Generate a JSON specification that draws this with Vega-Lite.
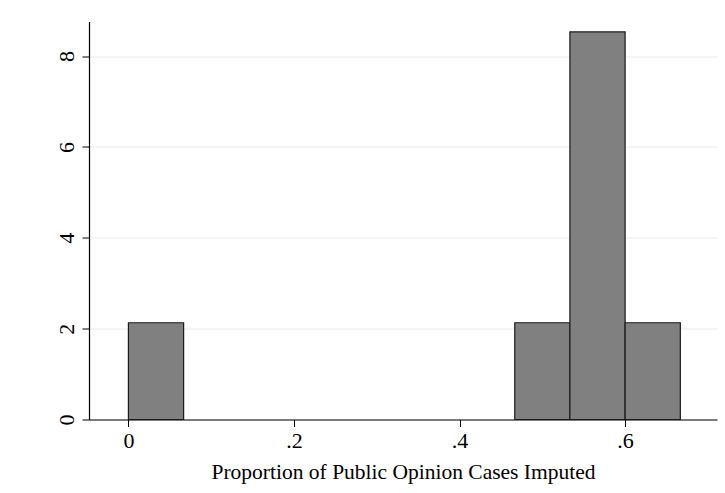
{
  "$schema": "https://vega.github.io/schema/vega-lite/v6.json",
  "width": 628,
  "height": 398,
  "autosize": {"type": "none"},
  "padding": {"left": 89, "top": 21.5, "right": 8, "bottom": 73.5},
  "background": "white",
  "config": {"view": {"stroke": null}, "font": "Liberation Serif"},
  "data": {"values": [
    {"bin_start": 0.0, "bin_end": 0.0667, "density": 2.13},
    {"bin_start": 0.4667, "bin_end": 0.5333, "density": 2.13},
    {"bin_start": 0.5333, "bin_end": 0.6, "density": 8.53},
    {"bin_start": 0.6, "bin_end": 0.6667, "density": 2.13}
  ]},
  "mark": {"type": "bar", "fill": "#808080", "stroke": "#1a1a1a", "strokeWidth": 1.2},
  "encoding": {
    "x": {
      "field": "bin_start", "type": "quantitative",
      "scale": {"domain": [-0.0476, 0.711], "nice": false, "zero": false},
      "axis": {
        "title": "Proportion of Public Opinion Cases Imputed",
        "titleFont": "Liberation Serif", "titleFontWeight": "normal", "titleFontSize": 21.5, "titleColor": "black", "titlePadding": 10,
        "values": [0, 0.2, 0.4, 0.6],
        "labelExpr": "datum.value == 0 ? '0' : replace(format(datum.value, '.1f'), '0.', '.')",
        "labelFont": "Liberation Serif", "labelFontSize": 22, "labelColor": "black", "labelPadding": 4,
        "grid": false, "tickSize": 7, "tickColor": "black", "domainColor": "black", "domainWidth": 1.2
      }
    },
    "x2": {"field": "bin_end"},
    "y": {
      "field": "density", "type": "quantitative",
      "scale": {"domain": [0, 8.76], "nice": false},
      "axis": {
        "title": null,
        "values": [0, 2, 4, 6, 8],
        "labelAngle": -90, "labelAlign": "center", "labelBaseline": "bottom",
        "labelFont": "Liberation Serif", "labelFontSize": 22, "labelColor": "black", "labelPadding": 4,
        "grid": true, "gridColor": "#e6eef1", "gridWidth": 1.2,
        "tickSize": 7, "tickColor": "black", "domainColor": "black", "domainWidth": 1.2
      }
    },
    "y2": {"datum": 0}
  }
}
